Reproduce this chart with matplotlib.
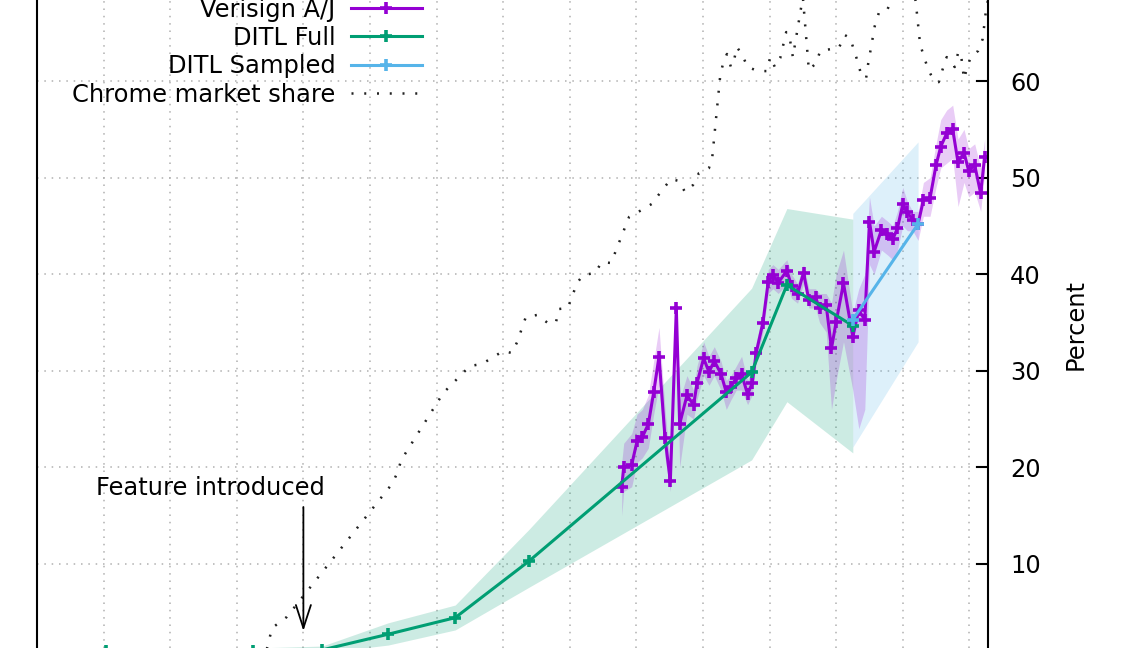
import matplotlib
matplotlib.use("Agg")
import matplotlib.pyplot as plt

plt.rcParams['font.family'] = ['DejaVu Sans']
plt.rcParams['font.size'] = 17.4

# Verisign A/J share (percent) with its uncertainty band
verisign_year = [2014.78, 2014.81, 2014.93, 2015.01, 2015.09, 2015.18, 2015.26, 2015.34, 2015.43, 2015.51,
                 2015.60, 2015.65, 2015.76, 2015.86, 2015.91, 2016.01, 2016.09, 2016.17, 2016.27, 2016.35,
                 2016.42, 2016.50, 2016.58, 2016.67, 2016.74, 2016.80, 2016.90, 2016.98, 2017.05, 2017.13,
                 2017.26, 2017.33, 2017.42, 2017.51, 2017.59, 2017.69, 2017.75, 2017.85, 2017.93, 2018.00,
                 2018.11, 2018.25, 2018.34, 2018.43, 2018.50, 2018.57, 2018.68, 2018.77, 2018.85, 2018.92,
                 2019.00, 2019.07, 2019.15, 2019.23, 2019.31, 2019.41, 2019.50, 2019.57, 2019.66, 2019.75,
                 2019.83, 2019.92, 2019.99, 2020.08, 2020.17, 2020.23]
verisign_pct = [17.94, 20.04, 20.28, 22.70, 23.15, 24.49, 27.78, 31.46, 23.06, 18.56,
                36.47, 24.49, 27.46, 26.46, 28.71, 31.29, 29.88, 31.01, 29.70, 27.78,
                28.37, 29.23, 29.65, 27.58, 28.71, 31.89, 34.98, 39.22, 39.92, 39.12,
                40.36, 38.78, 37.95, 40.16, 37.33, 37.61, 36.47, 36.81, 32.33, 35.08,
                39.06, 33.53, 36.29, 35.26, 45.44, 42.33, 44.58, 44.18, 43.61, 44.75,
                47.22, 46.39, 45.64, 45.20, 47.68, 47.89, 51.30, 53.20, 54.59, 55.00,
                51.58, 52.58, 50.71, 51.30, 48.37, 52.16]
verisign_lo = [15.0, 17.5, 18.0, 20.5, 21.0, 22.0, 25.5, 28.5, 21.0, 17.5,
               35.5, 20.0, 25.5, 25.0, 27.0, 29.5, 28.5, 29.5, 28.0, 26.0,
               27.0, 28.0, 28.0, 26.5, 27.5, 31.0, 34.0, 38.0, 38.5, 38.0,
               39.0, 37.5, 37.0, 39.0, 36.5, 36.5, 35.0, 34.0, 26.0, 29.0,
               33.0, 28.0, 24.0, 26.0, 41.0, 40.0, 42.5, 42.0, 41.5, 42.5,
               45.0, 44.5, 44.5, 43.5, 46.0, 46.0, 49.0, 51.0, 51.5, 52.0,
               47.0, 49.5, 48.0, 48.5, 46.5, 50.5]
verisign_hi = [20.5, 22.5, 23.5, 25.5, 26.0, 27.5, 31.0, 34.5, 26.0, 20.0,
               37.5, 27.0, 29.5, 28.0, 30.5, 33.0, 31.5, 32.5, 31.0, 29.0,
               29.5, 30.5, 31.5, 29.0, 30.0, 33.0, 36.0, 40.5, 41.0, 40.5,
               41.5, 40.0, 39.0, 41.0, 38.5, 38.5, 38.0, 38.0, 37.0, 40.0,
               42.5, 36.0, 38.5, 40.0, 48.0, 45.0, 46.0, 45.5, 45.0, 46.5,
               49.0, 47.5, 46.5, 46.5, 49.5, 50.0, 53.5, 56.0, 57.0, 57.5,
               54.0, 55.0, 53.0, 53.5, 51.0, 54.0]

# DITL full collections
ditl_full_year = [2007.04, 2009.24, 2010.28, 2011.27, 2012.28, 2013.39, 2016.73, 2017.26, 2018.25]
ditl_full_pct = [0.99, 0.99, 1.10, 2.72, 4.44, 10.31, 29.84, 38.88, 34.67]
ditl_full_lo = [0.7, 0.7, 0.8, 1.6, 3.17, 7.6, 20.77, 26.8, 21.5]
ditl_full_hi = [1.3, 1.3, 1.5, 3.9, 5.75, 13.6, 38.55, 46.8, 45.7]

# DITL sampled
ditl_sampled_year = [2018.25, 2019.23]
ditl_sampled_pct = [35.3, 45.2]
ditl_sampled_lo = [22.1, 33.0]
ditl_sampled_hi = [46.3, 53.7]

# Chrome market share
chrome_year = [2009.44, 2009.53, 2009.75, 2011.33, 2011.41, 2011.47, 2012.10, 2012.50, 2012.68, 2013.00,
               2013.13, 2013.21, 2013.34, 2013.51, 2013.67, 2013.79, 2013.84, 2013.97, 2014.11, 2014.20,
               2014.38, 2014.48, 2014.62, 2014.89, 2015.08, 2015.23, 2015.40, 2015.52, 2015.64, 2015.73,
               2015.85, 2015.94, 2016.09, 2016.14, 2016.26, 2016.30, 2016.36, 2016.42, 2016.47, 2016.51,
               2016.59, 2016.67, 2016.83, 2016.96, 2017.01, 2017.08, 2017.16, 2017.25, 2017.29, 2017.35,
               2017.50, 2017.59, 2017.70, 2017.76, 2017.92, 2018.04, 2018.13, 2018.21, 2018.33, 2018.38,
               2018.45, 2018.48, 2018.58, 2018.64, 2018.76, 2018.96, 2019.14, 2019.20, 2019.26, 2019.32,
               2019.38, 2019.47, 2019.54, 2019.60, 2019.66, 2019.72, 2019.78, 2019.83, 2019.87, 2019.92,
               2019.96, 2020.02, 2020.13, 2020.20, 2020.25, 2020.34]
chrome_pct = [0.89, 3.37, 4.51, 18.28, 19.42, 20.77, 27.70, 30.50, 30.70, 32.05,
              31.84, 32.98, 35.57, 35.78, 34.95, 34.95, 36.40, 36.50, 39.09, 39.92,
              40.12, 41.26, 41.16, 45.92, 46.65, 47.27, 48.82, 49.85, 49.65, 48.51,
              49.23, 50.48, 50.99, 52.13, 60.62, 61.76, 62.80, 61.45, 62.28, 63.52,
              62.69, 61.45, 61.03, 61.03, 62.48, 61.45, 62.38, 65.07, 64.97, 62.48,
              68.70, 61.14, 61.86, 63.11, 63.31, 63.42, 64.76, 64.45, 61.86, 60.52,
              60.31, 61.76, 65.70, 67.04, 67.25, 70.45, 70.97, 67.87, 63.83, 62.48,
              61.24, 59.99, 59.89, 61.24, 62.48, 61.97, 61.45, 62.90, 63.00, 60.21,
              61.24, 62.48, 63.11, 64.35, 67.35, 70.45]

feature_year = 2010.0
grid_years = list(range(2007, 2021))
pct_ticks = list(range(10, 70, 10))

PURPLE = '#9400d3'
GREEN = '#009e73'
BLUE = '#56b4e9'

W, H = 1133, 648
fig = plt.figure(figsize=(W / 100, H / 100), dpi=100)
ax = fig.add_axes([37 / W, 0, 951 / W, 1])

ax.fill_between(ditl_full_year, ditl_full_lo, ditl_full_hi, color=GREEN, alpha=0.2, lw=0)
ax.fill_between(ditl_sampled_year, ditl_sampled_lo, ditl_sampled_hi, color=BLUE, alpha=0.2, lw=0)
ax.fill_between(verisign_year, verisign_lo, verisign_hi, color=PURPLE, alpha=0.2, lw=0)

mk = dict(marker='+', markersize=9, markeredgewidth=2.6, lw=2.2)
ax.plot(verisign_year, verisign_pct, color=PURPLE, label='Verisign A/J', **mk)
ax.plot(ditl_full_year, ditl_full_pct, color=GREEN, label='DITL Full', **mk)
ax.plot(ditl_sampled_year, ditl_sampled_pct, color=BLUE, label='DITL Sampled', **mk)
ax.plot(chrome_year, chrome_pct, color='#222222', lw=1.8, ls=(0, (0.8, 4.3)),
        label='Chrome market share')

# arrow marking when the feature shipped
ax.annotate('', xy=(feature_year, 3.06), xytext=(feature_year, 15.9),
            arrowprops=dict(arrowstyle='->,head_length=1.66,head_width=0.54', mutation_scale=10,
                            lw=1.3, color='black', shrinkA=0, shrinkB=0))
ax.text(2008.61, 17.09, 'Feature introduced', ha='center', va='baseline')

ax.set_xticks(grid_years)
ax.set_yticks(pct_ticks)
ax.set_xlim(2006.0, 2020.28)
ax.set_ylim(1.30, 68.39)
ax.tick_params(axis='x', length=0, labelbottom=False)
ax.yaxis.tick_right()
ax.yaxis.set_label_position('right')
ax.tick_params(axis='y', direction='in', length=8.6, width=1.5, pad=16, labelsize=17.4)
ax.set_ylabel('Percent', labelpad=16)

ax.grid(True, color='#b0b0b0', lw=1.1, ls=(0, (1, 3.8)))
ax.set_axisbelow(True)
for s in ['top', 'bottom']:
    ax.spines[s].set_visible(False)
for s in ['left', 'right']:
    ax.spines[s].set_linewidth(1.5)
    ax.spines[s].set_color('black')

ax.legend(loc='upper right', bbox_to_anchor=(422 / W, 1 + 2.5 / H), bbox_transform=fig.transFigure,
          frameon=False, markerfirst=False, handlelength=2.95, handletextpad=0.62,
          labelspacing=0.18, borderpad=0, borderaxespad=0, numpoints=1, fontsize=17.4)

fig.savefig('out.png', dpi=100)
